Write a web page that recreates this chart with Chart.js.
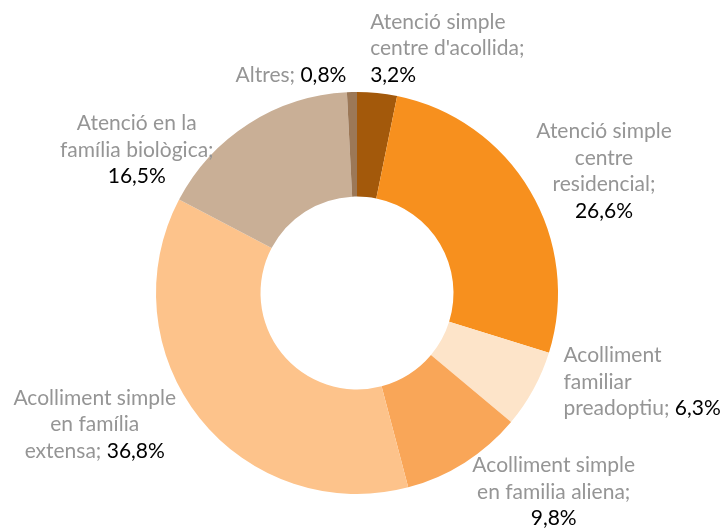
<!DOCTYPE html>
<html>
<head>
<meta charset="utf-8">
<script src="https://cdn.jsdelivr.net/npm/chart.js@4/dist/chart.umd.min.js"></script>
<style>
  html, body { margin: 0; padding: 0; background: #fff; }
  #caixa { width: 724px; height: 530px; }
</style>
</head>
<body>
<div id="caixa"><canvas id="grafic"></canvas></div>
<script>
// Dades llegides del gràfic (percentatges)
const categories = [
    "Atenció simple centre d'acollida",
    "Atenció simple centre residencial",
    "Acolliment familiar preadoptiu",
    "Acolliment simple en familia aliena",
    "Acolliment simple en família extensa",
    "Atenció en la família biològica",
    "Altres",
];
const valors = [3.2, 26.6, 6.3, 9.8, 36.8, 16.5, 0.8];
const colors = ["#A3590B", "#F7901E", "#FDE4C9", "#F9A658", "#FDC38B", "#C9AF96", "#9C7857"];

// Com es parteix cada etiqueta en línies (l'última porta el valor)
const liniesEtiqueta = [
    ["Atenció simple", "centre d'acollida;"],
    ["Atenció simple", "centre", "residencial;"],
    ["Acolliment", "familiar", "preadoptiu;"],
    ["Acolliment simple", "en familia aliena;"],
    ["Acolliment simple", "en família", "extensa;"],
    ["Atenció en la", "família biològica;"],
    ["Altres;"],
];
// valor en línia pròpia o enganxat a l'última línia del nom
const valorSeparat = [true, true, false, true, false, true, false];

// Desplaçament de cada etiqueta respecte al punt mig exterior de l'arc
const posEtiqueta = [
    { dx: -7, dy: -71, align: "left" },
    { dx: 74, dy: -59, align: "center" },
    { dx: 30, dy: -34, align: "left" },
    { dx: 89, dy: 3, align: "center" },
    { dx: -105, dy: -20, align: "center" },
    { dx: -112, dy: 0, align: "center" },
    { dx: -61, dy: -17, align: "center" },
];

const formatPct = v => v.toFixed(1).replace(".", ",") + "%";

const GRIS = "#959595";
const NEGRE = "#000000";
const FONT = "21px Lato";
const INTERLINIA = 26.5;

const etiquetes = {
    id: "etiquetes",
    afterDraw(chart) {
        const ctx = chart.ctx;
        const arcs = chart.getDatasetMeta(0).data;
        ctx.save();
        ctx.font = FONT;
        ctx.textBaseline = "middle";
        arcs.forEach((arc, i) => {
            const mig = (arc.startAngle + arc.endAngle) / 2;
            const px = arc.x + Math.cos(mig) * arc.outerRadius;
            const py = arc.y + Math.sin(mig) * arc.outerRadius;
            const p = posEtiqueta[i];
            const x0 = px + p.dx;
            let y = py + p.dy;

            // cada línia és una llista de trossos [text, color]
            const linies = liniesEtiqueta[i].map(t => [[t, GRIS]]);
            const valor = formatPct(valors[i]);
            if (valorSeparat[i]) linies.push([[valor, NEGRE]]);
            else linies[linies.length - 1].push([" " + valor, NEGRE]);

            linies.forEach(trossos => {
                const ample = trossos.reduce((s, t) => s + ctx.measureText(t[0]).width, 0);
                let x = p.align === "center" ? x0 - ample / 2 : x0;
                ctx.textAlign = "left";
                trossos.forEach(([text, color]) => {
                    ctx.fillStyle = color;
                    ctx.fillText(text, x, y);
                    x += ctx.measureText(text).width;
                });
                y += INTERLINIA;
            });
        });
        ctx.restore();
    },
};

new Chart(document.getElementById("grafic").getContext("2d"), {
    type: "doughnut",
    data: {
        labels: categories,
        datasets: [{
            data: valors,
            backgroundColor: colors,
            borderWidth: 0,
        }],
    },
    options: {
        responsive: true,
        maintainAspectRatio: false,
        animation: false,
        cutout: "48%",
        layout: { padding: { left: 156, right: 166, top: 92, bottom: 36 } },
        plugins: { legend: { display: false }, tooltip: { enabled: false } },
    },
    plugins: [etiquetes],
});
</script>
</body>
</html>
